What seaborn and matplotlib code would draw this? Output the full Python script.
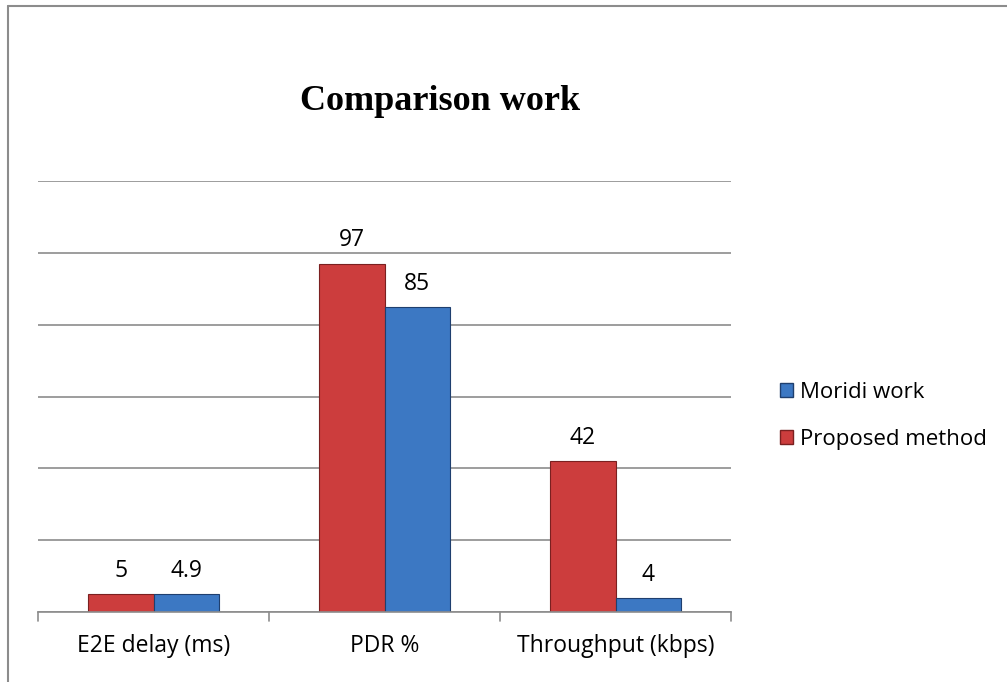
import matplotlib
matplotlib.use("Agg")
import matplotlib.pyplot as plt
import seaborn as sns
import pandas as pd
from matplotlib.lines import Line2D
from matplotlib.patches import Patch

categories = ["E2E delay (ms)", "PDR %", "Throughput (kbps)"]
proposed = [5, 97, 42]
moridi = [4.9, 85, 4]
series_names = ["Proposed method", "Moridi work"]
value_labels_proposed = ["5", "97", "42"]
value_labels_moridi = ["4.9", "85", "4"]

red = "#CC3D3D"
blue = "#3C78C3"

df = pd.DataFrame({
    "category": categories * 2,
    "value": proposed + moridi,
    "series": [series_names[0]] * 3 + [series_names[1]] * 3,
})

sns.set_theme(style="white")
plt.rcParams["font.family"] = ["Open Sans", "DejaVu Sans"]
plt.rcParams["text.color"] = "black"
plt.rcParams["xtick.color"] = "black"

fig = plt.figure(figsize=(10.07, 6.82), dpi=100)
ax = fig.add_axes([38/1007, 1 - 612/682, (731-38)/1007, (612-181)/682])

sns.barplot(data=df, x="category", y="value", hue="series",
            hue_order=series_names, order=categories,
            palette=[red, blue], width=0.57, ax=ax, legend=False,
            linewidth=0.8, saturation=1)
for i, cont in enumerate(ax.containers):
    for p in cont.patches:
        p.set_edgecolor("#7a2020" if i == 0 else "#1f3f6e")
ax.bar_label(ax.containers[0], labels=value_labels_proposed, padding=8, fontsize=16.5)
ax.bar_label(ax.containers[1], labels=value_labels_moridi, padding=8, fontsize=16.5)

ax.set_ylim(0, 120)
ax.set_xlim(-0.5, 2.5)
ax.set_yticks(range(0, 121, 20))
ax.set_yticklabels([])
ax.tick_params(axis="y", length=0)
ax.yaxis.grid(True, color="#8c8c8c", linewidth=1.2)
ax.set_axisbelow(True)
for s in ["top", "right", "left"]:
    ax.spines[s].set_visible(False)
ax.spines["bottom"].set_color("#8c8c8c")
ax.spines["bottom"].set_linewidth(1.2)
ax.set_xlabel("")
ax.set_ylabel("")
ax.set_xticks([0, 1, 2])
ax.set_xticklabels(categories, fontsize=16.5, color="black")
ax.tick_params(axis="x", length=0, pad=16)
for xb in [-0.5, 0.5, 1.5, 2.5]:
    ax.plot([xb, xb], [0, -0.022], transform=ax.get_xaxis_transform(),
            color="#8c8c8c", linewidth=1.2, clip_on=False)

fig.text(440/1007, 1 - 101/682, "Comparison work", ha="center", va="center",
         fontsize=26, fontweight="bold", family="Liberation Serif", color="black")

handles = [Patch(facecolor=blue, edgecolor="#1f3f6e"),
           Patch(facecolor=red, edgecolor="#7a2020")]
fig.legend(handles, ["Moridi work", "Proposed method"],
           loc="center left", bbox_to_anchor=(760/1007, 1 - 416/682),
           frameon=False, fontsize=16, handlelength=0.6, handleheight=0.6,
           handletextpad=0.3, labelspacing=1.15)

fig.add_artist(Line2D([8/1007, 8/1007], [0, 1 - 6/682], color="#8c8c8c", linewidth=1.5))
fig.add_artist(Line2D([8/1007, 1], [1 - 6/682, 1 - 6/682], color="#8c8c8c", linewidth=1.5))

fig.savefig("out.png", dpi=100, facecolor="white")
